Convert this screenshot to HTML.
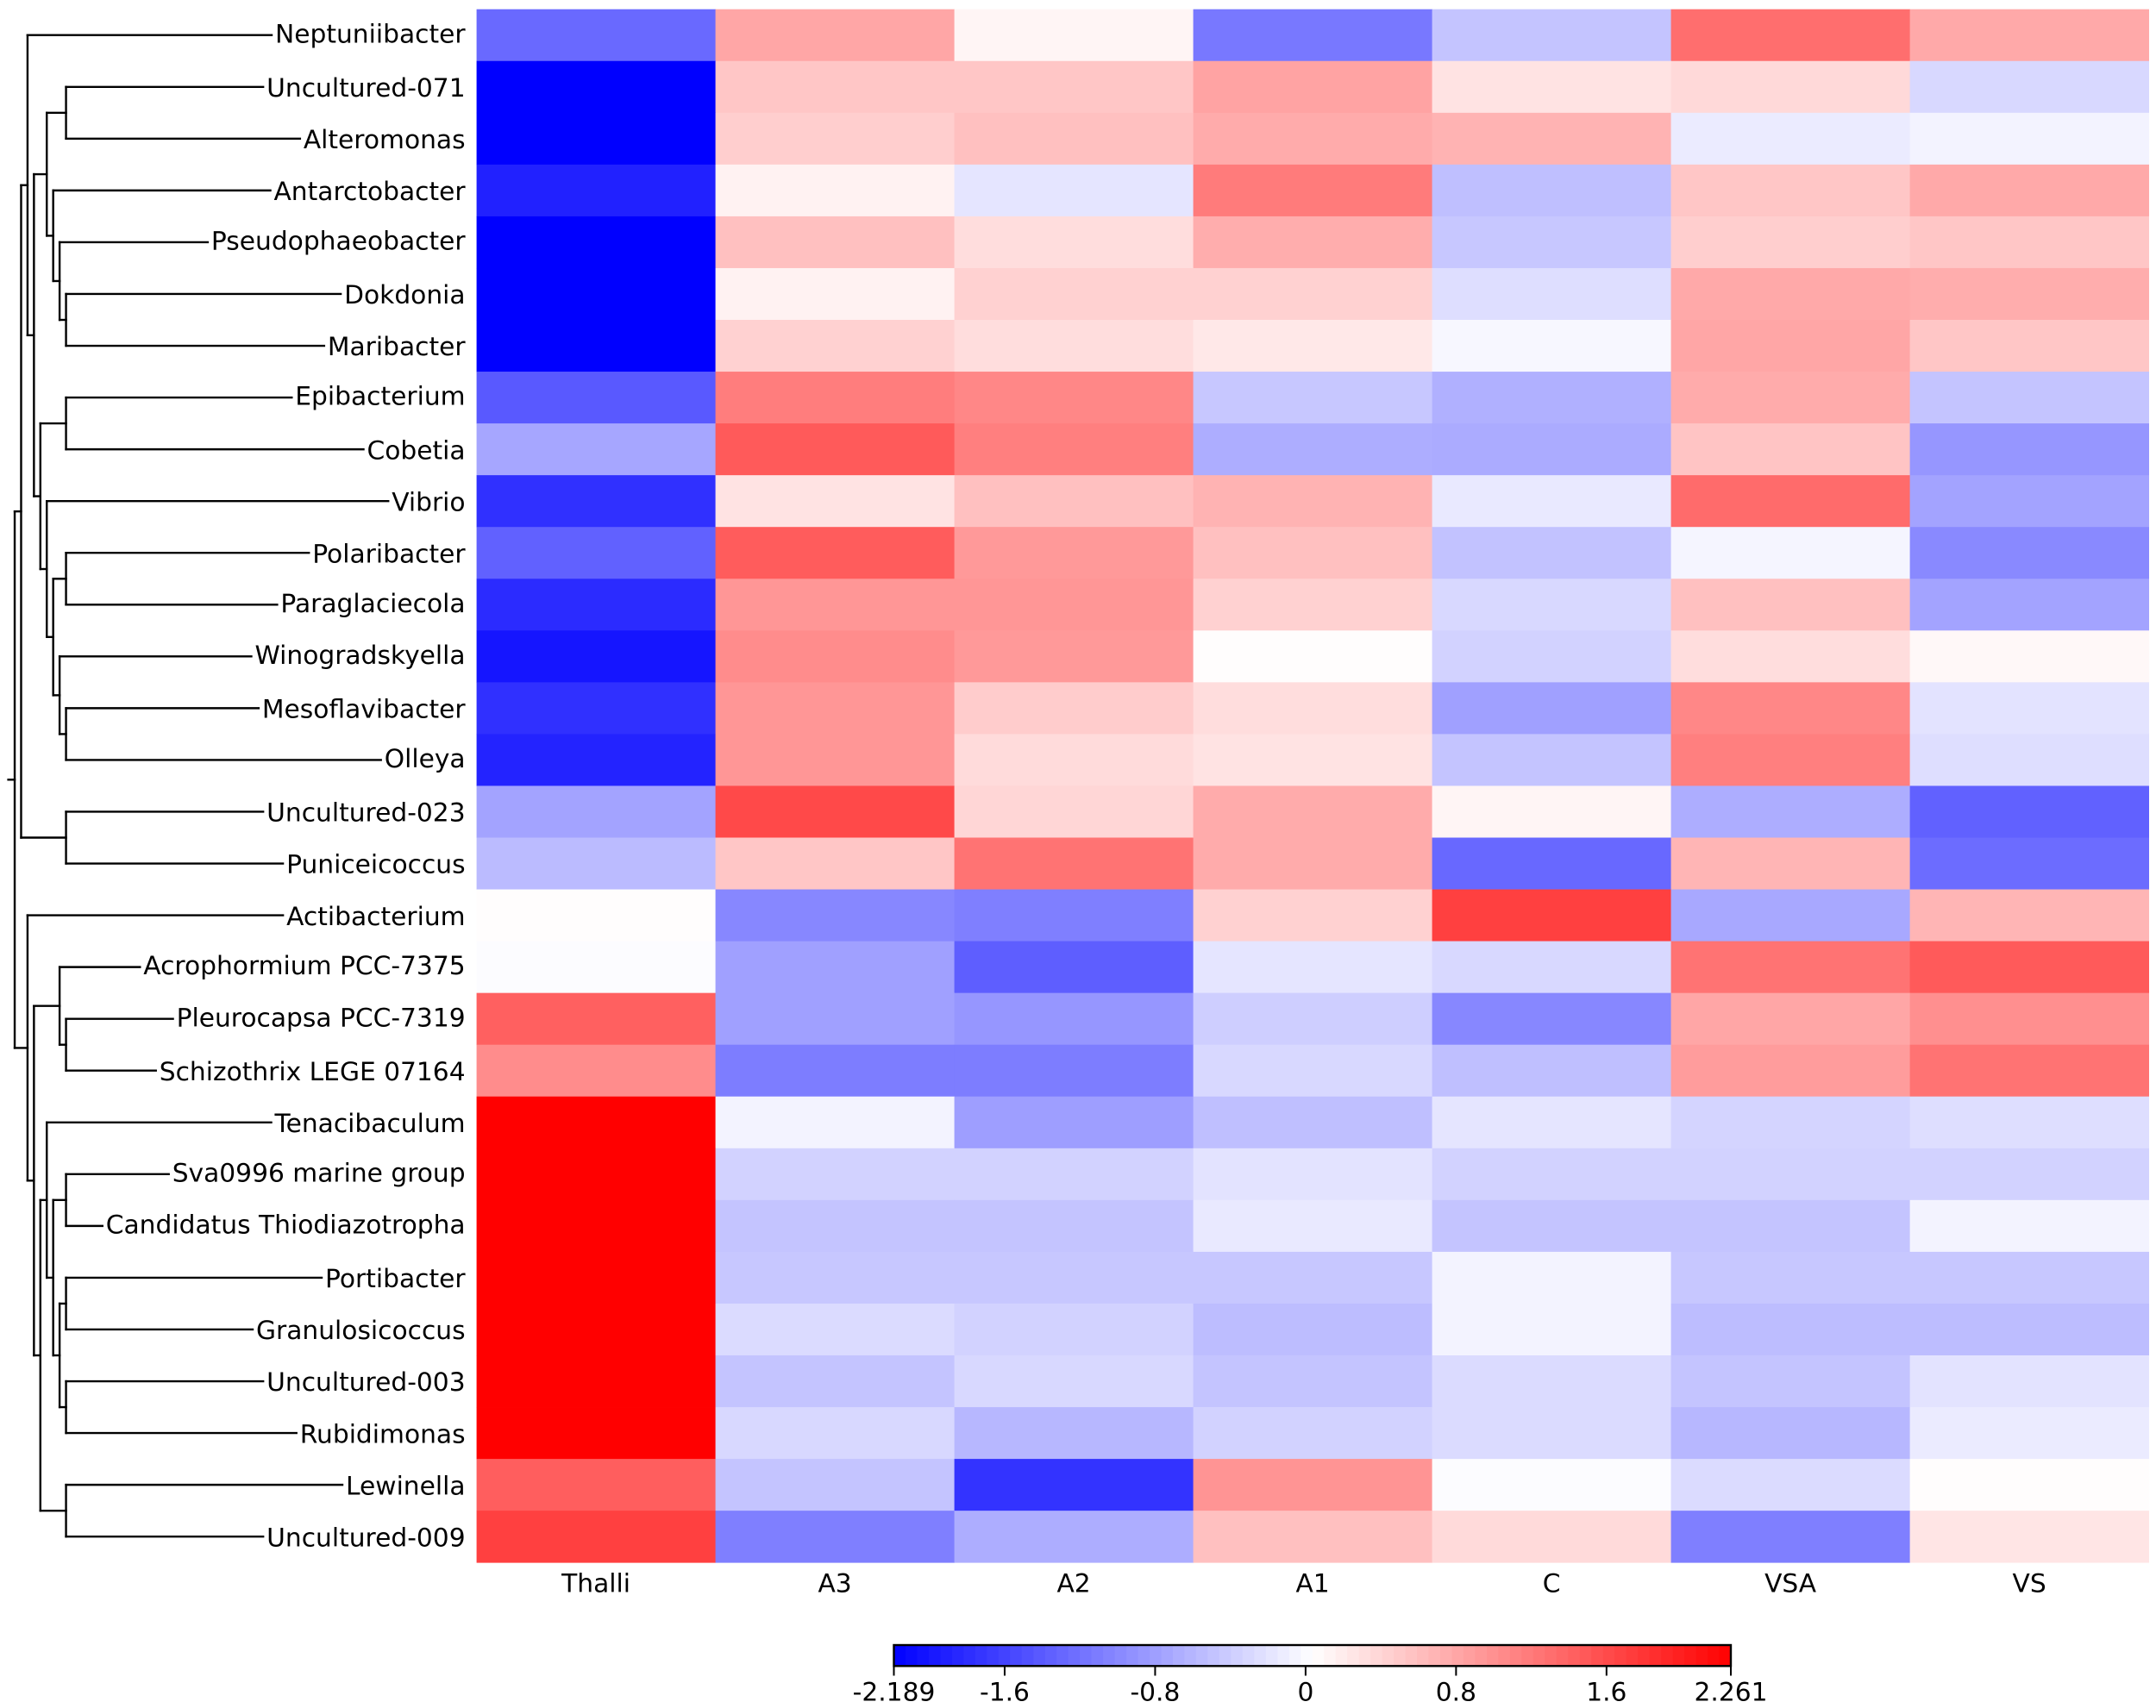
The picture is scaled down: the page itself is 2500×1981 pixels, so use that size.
<!DOCTYPE html>
<html lang="en">
<head>
<meta charset="utf-8">
<title>Clustered heatmap</title>
<style>
html,body{margin:0;padding:0;background:#fff;}
svg{display:block;}
text{font-family:"DejaVu Sans","Liberation Sans",sans-serif;fill:#000;}
</style>
</head>
<body>
<svg id="chart" xmlns="http://www.w3.org/2000/svg" width="2500" height="1981" viewBox="0 0 2500 1981">
<rect x="0" y="0" width="2500" height="1981" fill="#ffffff"/>
<g id="dendrogram"></g>
<g id="cells"></g>
<g id="rowlabels"></g>
<g id="collabels"></g>
<g id="colorbar"></g>
</svg>
<script>
const rowLabels = ["Neptuniibacter","Uncultured-071","Alteromonas","Antarctobacter","Pseudophaeobacter","Dokdonia","Maribacter","Epibacterium","Cobetia","Vibrio","Polaribacter","Paraglaciecola","Winogradskyella","Mesoflavibacter","Olleya","Uncultured-023","Puniceicoccus","Actibacterium","Acrophormium PCC-7375","Pleurocapsa PCC-7319","Schizothrix LEGE 07164","Tenacibaculum","Sva0996 marine group","Candidatus Thiodiazotropha","Portibacter","Granulosicoccus","Uncultured-003","Rubidimonas","Lewinella","Uncultured-009"];
const colLabels = ["Thalli","A3","A2","A1","C","VSA","VS"];
const cellValues = [
[-1.27,.81,.12,-1.14,-.48,1.30,.79],
[-2.189,.53,.53,.84,.28,.37,-.30],
[-2.189,.46,.59,.77,.70,-.14,-.07],
[-1.90,.15,-.19,1.19,-.52,.53,.79],
[-2.189,.59,.33,.75,-.45,.46,.53],
[-2.189,.15,.44,.44,-.25,.79,.75],
[-2.189,.44,.33,.24,-.03,.81,.53],
[-1.41,1.17,1.08,-.45,-.65,.77,-.48],
[-.74,1.48,1.15,-.68,-.70,.55,-.88],
[-1.77,.28,.59,.70,-.16,1.33,-.77],
[-1.34,1.46,.93,.59,-.50,-.05,-.99],
[-1.81,.95,.95,.44,-.30,.59,-.77],
[-2.01,1.04,.93,.055,-.36,.33,.10],
[-1.77,.95,.48,.33,-.79,1.08,-.21],
[-1.88,.95,.35,.28,-.48,1.15,-.25],
[-.77,1.62,.39,.77,.12,-.68,-1.34],
[-.56,.53,1.26,.77,-1.28,.68,-1.25],
[.055,-1.01,-1.08,.44,1.70,-.72,.68],
[.01,-.79,-1.37,-.19,-.30,1.26,1.48],
[1.42,-.79,-.88,-.39,-1.01,.81,1.01],
[1.04,-1.10,-1.10,-.30,-.52,.90,1.26],
[2.261,-.07,-.81,-.52,-.19,-.34,-.25],
[2.261,-.36,-.36,-.21,-.36,-.36,-.36],
[2.261,-.48,-.48,-.16,-.48,-.48,-.07],
[2.261,-.45,-.45,-.45,-.07,-.45,-.45],
[2.261,-.28,-.36,-.54,-.07,-.54,-.54],
[2.261,-.48,-.30,-.48,-.28,-.48,-.21],
[2.261,-.30,-.59,-.36,-.28,-.59,-.14],
[1.44,-.48,-1.74,.97,.01,-.28,.055],
[1.70,-1.08,-.68,.59,.36,-1.08,.26]
];
const colorbarMin = -2.189;
const colorbarMax = 2.261;
const colorbarTicks = [-2.189,-1.6,-0.8,0,0.8,1.6,2.261];
const colorbarTickLabels = ["-2.189","-1.6","-0.8","0","0.8","1.6","2.261"];
/* Tree: each node is [merge level, child, child]; a bare number is a row index */
const clusterTree = [1,
  [2,
    [3, 0,
      [4,
        [6, [9,1,2], [7, 3, [8, 4, [9,5,6]]]],
        [5, [9,7,8], [6, 9, [7, [9,10,11], [8, 12, [9,13,14]]]]]
      ]
    ],
    [9,15,16]
  ],
  [3, 17,
    [4,
      [8, 18, [9,19,20]],
      [5,
        [6, 21, [7, [9,22,23], [8, [9,24,25], [9,26,27]]]],
        [9,28,29]
      ]
    ]
  ]
];

const NS = "http://www.w3.org/2000/svg";
const plotLeft = 552.6, plotTop = 10.7, cellW = 277, cellH = 60.05;
const labelRight = 539.6, fontSize = 29.7;
function xCol(c){ return plotLeft + c * cellW; }
function yRow(r){ return plotTop + r * cellH; }
function yCenter(r){ return yRow(r) + cellH / 2; }
function xLevel(l){ return 9.6 + l * 7.44; }
function colorFor(v){
  const t = (v - colorbarMin) / (colorbarMax - colorbarMin);
  const clamp = Math.max(0, Math.min(1, t));
  if (clamp < 0.5) {
    const g = Math.round(clamp * 2 * 255);
    return "rgb(" + g + "," + g + ",255)";
  }
  const g = Math.round((1 - clamp) * 2 * 255);
  return "rgb(255," + g + "," + g + ")";
}
function make(tag, parent, attrs){
  const el = document.createElementNS(NS, tag);
  for (const k in attrs) el.setAttribute(k, attrs[k]);
  parent.appendChild(el);
  return el;
}

/* heatmap cells */
const cellsG = document.getElementById("cells");
cellValues.forEach(function(row, r){
  row.forEach(function(v, c){
    const rect = make("rect", cellsG, {x: xCol(c), y: yRow(r), width: cellW + 0.4, height: cellH + 0.4, fill: colorFor(v)});
    
    
  });
});

/* row labels */
const rowG = document.getElementById("rowlabels");
const leafEnd = [];
rowLabels.forEach(function(name, r){
  const off = /[gpyjq]/.test(name) ? 8.6 : 11.2;
  const t = make("text", rowG, {x: labelRight, y: yCenter(r) + off, "text-anchor": "end", "font-size": fontSize});
  t.textContent = name;
  
  
  leafEnd[r] = labelRight - t.getComputedTextLength() - 4;
});

/* column labels */
const colG = document.getElementById("collabels");
colLabels.forEach(function(name, c){
  const t = make("text", colG, {x: xCol(c) + cellW / 2, y: 1846.7, "text-anchor": "middle", "font-size": fontSize});
  t.textContent = name;
  
  
});

/* dendrogram */
const dendG = document.getElementById("dendrogram");
function treeLine(x1, y1, x2, y2){
  const l = make("line", dendG, {x1: x1, y1: y1, x2: x2, y2: y2, stroke: "#000", "stroke-width": 2.4, "stroke-linecap": "square"});
  
  
}
function drawNode(node){
  if (typeof node === "number") return {y: yCenter(node), x: leafEnd[node]};
  const a = drawNode(node[1]);
  const b = drawNode(node[2]);
  const x = xLevel(node[0]);
  treeLine(x, a.y, x, b.y);
  const ax = typeof node[1] === "number" ? a.x : a.nx;
  const bx = typeof node[2] === "number" ? b.x : b.nx;
  treeLine(x, a.y, ax, a.y);
  treeLine(x, b.y, bx, b.y);
  return {y: (a.y + b.y) / 2, nx: x};
}
const rootNode = drawNode(clusterTree);
treeLine(xLevel(0), rootNode.y, rootNode.nx, rootNode.y);

/* colorbar */
const cbG = document.getElementById("colorbar");
const cbLeft = 1036.5, cbRight = 2007, cbTop = 1908, cbBottom = 1932.3;
function xBar(v){ return cbLeft + (v - colorbarMin) / (colorbarMax - colorbarMin) * (cbRight - cbLeft); }
const rampSteps = 72;
for (let i = 0; i < rampSteps; i++) {
  const v0 = colorbarMin + (colorbarMax - colorbarMin) * i / rampSteps;
  const v1 = colorbarMin + (colorbarMax - colorbarMin) * (i + 1) / rampSteps;
  const seg = make("rect", cbG, {x: xBar(v0), y: cbTop, width: xBar(v1) - xBar(v0) + 0.5, height: cbBottom - cbTop, fill: colorFor((v0 + v1) / 2)});
  
  
}
const cbFrame = make("rect", cbG, {x: cbLeft, y: cbTop, width: cbRight - cbLeft, height: cbBottom - cbTop, fill: "none", stroke: "#000", "stroke-width": 2.4});


colorbarTicks.forEach(function(v, i){
  const tk = make("line", cbG, {x1: xBar(v), y1: cbBottom, x2: xBar(v), y2: 1943.5, stroke: "#000", "stroke-width": 2});
  
  
  const t = make("text", cbG, {x: xBar(v), y: 1972.3, "text-anchor": "middle", "font-size": 29.7});
  t.textContent = colorbarTickLabels[i];
  
  
});
</script>
</body>
</html>
